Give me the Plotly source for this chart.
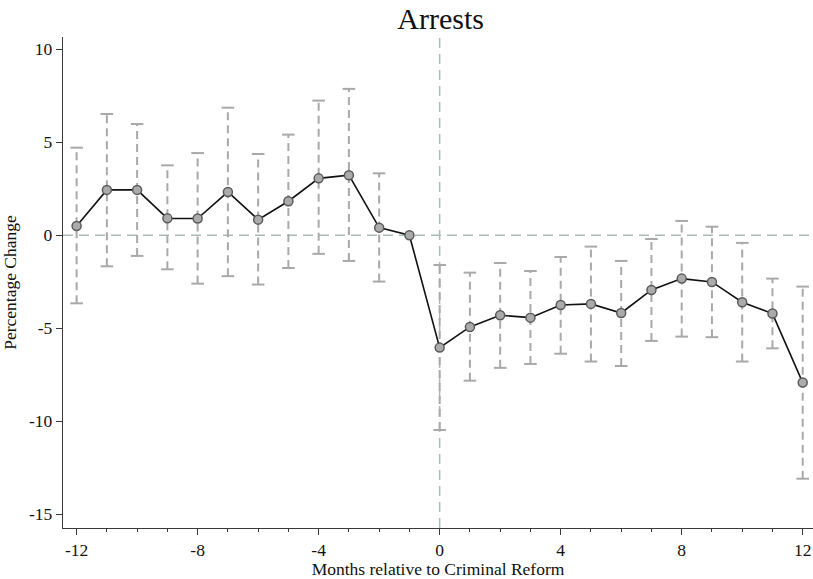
import plotly.graph_objects as go

# Event-study estimates: months relative to the reform
months = list(range(-12, 13))
estimate = [0.50, 2.44, 2.44, 0.91, 0.90, 2.33, 0.84, 1.83, 3.06, 3.23, 0.41, 0.00,
            -6.04, -4.93, -4.30, -4.43, -3.75, -3.69, -4.18, -2.94, -2.33, -2.51, -3.60, -4.21, -7.92]
ci_upper = [4.71, 6.52, 5.98, 3.76, 4.42, 6.86, 4.37, 5.41, 7.24, 7.87, 3.33, None,
            -1.60, -2.01, -1.49, -1.92, -1.17, -0.61, -1.38, -0.20, 0.77, 0.46, -0.41, -2.33, -2.76]
ci_lower = [-3.66, -1.67, -1.11, -1.83, -2.60, -2.20, -2.65, -1.76, -1.00, -1.38, -2.49, None,
            -10.47, -7.82, -7.13, -6.92, -6.37, -6.79, -7.03, -5.68, -5.45, -5.48, -6.79, -6.08, -13.09]

x_ticks = [-12, -8, -4, 0, 4, 8, 12]
y_ticks = [-15, -10, -5, 0, 5, 10]

SERIF = "Liberation Serif, Times New Roman, serif"
CI_COLOR = "#a9a9a9"
REF_COLOR = "#a9bbb7"
AXIS_COLOR = "#3a3a3a"
TEXT_SIZE = 17.5

# Build dashed whiskers and caps from the confidence bounds
wx, wy, cx, cy = [], [], [], []
for m, lo, hi in zip(months, ci_lower, ci_upper):
    if lo is None or hi is None:
        continue
    wx += [m, m, None]
    wy += [lo, hi, None]
    cx += [m, m]
    cy += [lo, hi]

fig = go.Figure()

fig.add_trace(go.Scatter(
    x=wx, y=wy, mode="lines",
    line=dict(color=CI_COLOR, width=2, dash="8px,5px"),
    hoverinfo="skip", showlegend=False,
))
fig.add_trace(go.Scatter(
    x=cx, y=cy, mode="markers",
    marker=dict(symbol="line-ew", size=9, line=dict(color=CI_COLOR, width=2)),
    hoverinfo="skip", showlegend=False,
))
fig.add_trace(go.Scatter(
    x=months, y=estimate, mode="lines+markers",
    line=dict(color="#111111", width=1.6),
    marker=dict(symbol="circle", size=9, color="#ababab",
                line=dict(color="#5a5a5a", width=1.5)),
    showlegend=False,
))

# Reference lines at zero
fig.add_shape(type="line", xref="paper", yref="y", x0=0, x1=1, y0=0, y1=0,
              line=dict(color=REF_COLOR, width=1.5, dash="10px,6px"), layer="below")
fig.add_shape(type="line", xref="x", yref="paper", x0=0, x1=0, y0=0, y1=1,
              line=dict(color=REF_COLOR, width=1.5, dash="10px,6px"), layer="below")

fig.update_layout(
    width=813, height=579,
    margin=dict(l=63, r=0, t=37, b=51),
    paper_bgcolor="white", plot_bgcolor="white",
    font=dict(family=SERIF, size=TEXT_SIZE, color="#111111"),
    title=dict(text="Arrests", x=0.542, xanchor="center", y=0.968, yanchor="middle",
               font=dict(family=SERIF, size=30, color="#111111")),
    xaxis=dict(
        range=[-12.45, 12.34], tickvals=x_ticks, ticktext=[str(v) for v in x_ticks],
        ticks="outside", ticklen=6, tickwidth=1.2, tickcolor=AXIS_COLOR,
        minor=dict(dtick=1, tick0=0, ticks="outside", ticklen=3, tickwidth=1.2,
                   tickcolor=AXIS_COLOR, showgrid=False),
        showline=True, linecolor=AXIS_COLOR, linewidth=1.4,
        showgrid=False, zeroline=False,
        title=dict(text="Months relative to Criminal Reform", standoff=0,
                   font=dict(family=SERIF, size=TEXT_SIZE)),
        tickfont=dict(family=SERIF, size=TEXT_SIZE),
    ),
    yaxis=dict(
        range=[-15.74, 10.66], tickvals=y_ticks, ticktext=[str(v) for v in y_ticks],
        ticks="outside", ticklen=6, tickwidth=1.2, tickcolor=AXIS_COLOR,
        showline=True, linecolor=AXIS_COLOR, linewidth=1.4,
        showgrid=False, zeroline=False,
        title=dict(text="Percentage Change", standoff=8,
                   font=dict(family=SERIF, size=TEXT_SIZE)),
        tickfont=dict(family=SERIF, size=TEXT_SIZE),
    ),
)

fig.write_html("out.html")
